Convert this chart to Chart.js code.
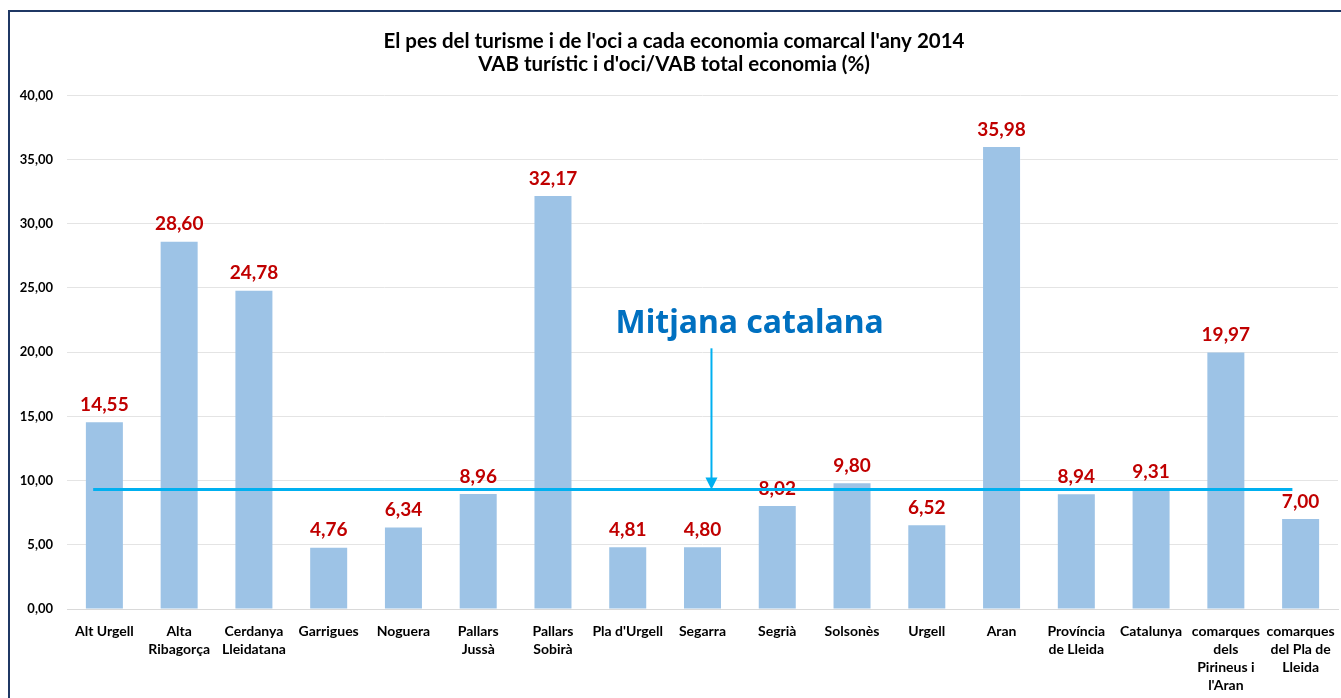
<!DOCTYPE html>
<html>
<head>
<meta charset="utf-8">
<script src="https://cdn.jsdelivr.net/npm/chart.js@4"></script>
<style>
  html, body { margin: 0; padding: 0; background: #fff; }
  #wrap { width: 1341px; height: 698px; }
</style>
</head>
<body>
<div id="wrap"><canvas id="turismeChart" width="1341" height="698"></canvas></div>
<script>
const comarques = [
  "Alt Urgell", ["Alta", "Ribagorça"], ["Cerdanya", "Lleidatana"], "Garrigues", "Noguera",
  ["Pallars", "Jussà"], ["Pallars", "Sobirà"], "Pla d'Urgell", "Segarra", "Segrià", "Solsonès",
  "Urgell", "Aran", ["Província", "de Lleida"], "Catalunya",
  ["comarques", "dels", "Pirineus i", "l'Aran"], ["comarques", "del Pla de", "Lleida"]
];
const pesTurisme = [14.55, 28.60, 24.78, 4.76, 6.34, 8.96, 32.17, 4.81, 4.80, 8.02, 9.80, 6.52, 35.98, 8.94, 9.31, 19.97, 7.00];
const mitjanaCatalana = 9.31;
const titleLines = ["El pes del turisme i de l'oci a cada economia comarcal l'any 2014", "VAB turístic i d'oci/VAB total economia (%)"];

const fmt = (v) => v.toFixed(2).replace(".", ",");

// frame around the whole chart, like the Excel chart area border
const framePlugin = {
  id: "frame",
  beforeDraw(chart) {
    const ctx = chart.ctx;
    ctx.save();
    ctx.strokeStyle = "#1F3864";
    ctx.lineWidth = 2;
    ctx.strokeRect(9, 11, 1345, 700);
    ctx.restore();
  },
};

// value labels + mean line + annotation
const overlayPlugin = {
  id: "overlay",
  afterDatasetsDraw(chart) {
    const ctx = chart.ctx;
    const x = chart.scales.x, y = chart.scales.y;
    const meta = chart.getDatasetMeta(0);
    ctx.save();
    ctx.font = "bold 19px Lato";
    ctx.fillStyle = "#C00000";
    ctx.textAlign = "center";
    ctx.textBaseline = "bottom";
    meta.data.forEach((bar, i) => {
      ctx.fillText(fmt(pesTurisme[i]), bar.x, bar.y - 8);
    });

    // mean line
    const ly = y.getPixelForValue(mitjanaCatalana);
    ctx.strokeStyle = "#00B0F0";
    ctx.lineWidth = 3;
    ctx.beginPath();
    ctx.moveTo(x.getPixelForValue(-0.15), ly);
    ctx.lineTo(x.getPixelForValue(15.89), ly);
    ctx.stroke();

    // arrow
    const ax = x.getPixelForValue(8.12);
    const top = y.getPixelForValue(20.3);
    ctx.lineWidth = 2;
    ctx.beginPath();
    ctx.moveTo(ax, top);
    ctx.lineTo(ax, ly - 10);
    ctx.stroke();
    ctx.fillStyle = "#00B0F0";
    ctx.beginPath();
    ctx.moveTo(ax - 6, ly - 12);
    ctx.lineTo(ax + 6, ly - 12);
    ctx.lineTo(ax, ly);
    ctx.closePath();
    ctx.fill();

    ctx.fillStyle = "#0070C0";
    ctx.font = "bold 32px 'Noto Sans'";
    ctx.textBaseline = "middle";
    ctx.fillText("Mitjana catalana", x.getPixelForValue(8.63), y.getPixelForValue(22.2));
    ctx.restore();
  },
};

new Chart(document.getElementById("turismeChart").getContext("2d"), {
  type: "bar",
  data: {
    labels: comarques,
    datasets: [{
      data: pesTurisme,
      backgroundColor: "#9DC3E6",
      categoryPercentage: 1,
      barPercentage: 0.495,
    }],
  },
  options: {
    responsive: false,
    animation: false,
    layout: { padding: { left: 10, right: 3, top: 0, bottom: 0 } },
    plugins: {
      legend: { display: false },
      tooltip: { enabled: false },
      title: {
        display: true,
        text: titleLines,
        color: "#000",
        font: { family: "Lato", size: 20.5, weight: "bold", lineHeight: 1.13 },
        padding: { top: 30, bottom: 19 },
      },
    },
    scales: {
      x: {
        afterFit: (s) => { s.height = 89; },
        grid: { display: false },
        border: { color: "#D9D9D9" },
        ticks: {
          color: "#000",
          font: { family: "Lato", size: 14, weight: "bold", lineHeight: 1.3 },
          maxRotation: 0,
          autoSkip: false,
          padding: 5,
        },
      },
      y: {
        min: 0,
        max: 40,
        afterFit: (s) => { s.width = 57; },
        grid: { color: "#E4E4E4", drawTicks: false },
        border: { display: false },
        ticks: {
          stepSize: 5,
          color: "#000",
          padding: 14,
          font: { family: "Lato", size: 13, weight: "bold" },
          callback: (v) => fmt(v),
        },
      },
    },
  },
  plugins: [framePlugin, overlayPlugin],
});
</script>
</body>
</html>
